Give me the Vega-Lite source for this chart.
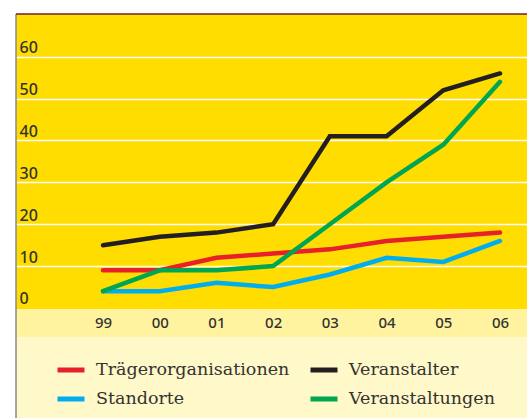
{
  "$schema": "https://vega.github.io/schema/vega-lite/v6.json",
  "width": 511,
  "height": 404,
  "autosize": {"type": "none"},
  "padding": {"left": 16, "top": 14, "right": 0, "bottom": 0},
  "background": "white",
  "config": {
    "view": {"fill": "#FFDD00", "stroke": null},
    "font": "Noto Sans"
  },
  "datasets": {
    "series": [
      {"year": 1999, "series": "Trägerorganisationen", "value": 9},
      {"year": 2000, "series": "Trägerorganisationen", "value": 9},
      {"year": 2001, "series": "Trägerorganisationen", "value": 12},
      {"year": 2002, "series": "Trägerorganisationen", "value": 13},
      {"year": 2003, "series": "Trägerorganisationen", "value": 14},
      {"year": 2004, "series": "Trägerorganisationen", "value": 16},
      {"year": 2005, "series": "Trägerorganisationen", "value": 17},
      {"year": 2006, "series": "Trägerorganisationen", "value": 18},
      {"year": 1999, "series": "Veranstalter", "value": 15},
      {"year": 2000, "series": "Veranstalter", "value": 17},
      {"year": 2001, "series": "Veranstalter", "value": 18},
      {"year": 2002, "series": "Veranstalter", "value": 20},
      {"year": 2003, "series": "Veranstalter", "value": 41},
      {"year": 2004, "series": "Veranstalter", "value": 41},
      {"year": 2005, "series": "Veranstalter", "value": 52},
      {"year": 2006, "series": "Veranstalter", "value": 56},
      {"year": 1999, "series": "Standorte", "value": 4},
      {"year": 2000, "series": "Standorte", "value": 4},
      {"year": 2001, "series": "Standorte", "value": 6},
      {"year": 2002, "series": "Standorte", "value": 5},
      {"year": 2003, "series": "Standorte", "value": 8},
      {"year": 2004, "series": "Standorte", "value": 12},
      {"year": 2005, "series": "Standorte", "value": 11},
      {"year": 2006, "series": "Standorte", "value": 16},
      {"year": 1999, "series": "Veranstaltungen", "value": 4},
      {"year": 2000, "series": "Veranstaltungen", "value": 9},
      {"year": 2001, "series": "Veranstaltungen", "value": 9},
      {"year": 2002, "series": "Veranstaltungen", "value": 10},
      {"year": 2003, "series": "Veranstaltungen", "value": 20},
      {"year": 2004, "series": "Veranstaltungen", "value": 30},
      {"year": 2005, "series": "Veranstaltungen", "value": 39},
      {"year": 2006, "series": "Veranstaltungen", "value": 54}
    ],
    "one": [{}]
  },
  "layer": [
    {
      "data": {"name": "one"},
      "mark": {"type": "rect", "color": "#FFF3A0"},
      "encoding": {
        "x": {"datum": 1997.466, "type": "quantitative", "scale": {"domain": [1997.466, 2006.476], "nice": false, "zero": false}},
        "x2": {"datum": 2006.476},
        "y": {"datum": -0.24, "type": "quantitative", "scale": {"domain": [-26.27, 70.2], "nice": false, "zero": false}},
        "y2": {"datum": -6.92}
      }
    },
    {
      "data": {"name": "one"},
      "mark": {"type": "rect", "color": "#FFF8C8"},
      "encoding": {
        "x": {"datum": 1997.466, "type": "quantitative"},
        "x2": {"datum": 2006.476},
        "y": {"datum": -6.92, "type": "quantitative"},
        "y2": {"datum": -26.27}
      }
    },
    {
      "data": {"name": "series"},
      "mark": {"type": "line", "strokeWidth": 4.5, "strokeCap": "round"},
      "encoding": {
        "x": {
          "field": "year",
          "type": "quantitative",
          "axis": {
            "orient": "bottom",
            "offset": -96,
            "zindex": 1,
            "values": [1999, 2000, 2001, 2002, 2003, 2004, 2005, 2006],
            "labelExpr": "slice(toString(datum.value), 2)",
            "domain": false,
            "ticks": false,
            "grid": false,
            "labelPadding": 0,
            "labelBaseline": "middle",
            "labelFontSize": 15,
            "labelFontWeight": 500,
            "labelColor": "#333333",
            "title": null
          }
        },
        "y": {
          "field": "value",
          "type": "quantitative",
          "axis": {
            "orient": "left",
            "zindex": 0,
            "values": [0, 10, 20, 30, 40, 50, 60],
            "domain": false,
            "ticks": false,
            "grid": true,
            "gridColor": {"condition": {"test": "datum.value === 0", "value": "transparent"}, "value": "#FFFFFF"},
            "gridWidth": 1.5,
            "gridOpacity": 1,
            "labelAlign": "left",
            "labelPadding": -3,
            "labelBaseline": "alphabetic",
            "labelOffset": -4,
            "labelFontSize": 16,
            "labelFontWeight": 500,
            "labelColor": "#333333",
            "title": null
          }
        },
        "color": {
          "field": "series",
          "type": "nominal",
          "scale": {
            "domain": ["Trägerorganisationen", "Standorte", "Veranstalter", "Veranstaltungen"],
            "range": ["#E8202A", "#00AEEF", "#231F20", "#00A651"]
          },
          "legend": {
            "orient": "none",
            "legendX": 39,
            "legendY": 340,
            "columns": 2,
            "title": null,
            "symbolType": "stroke",
            "symbolSize": 729,
            "symbolStrokeWidth": 5,
            "labelFont": "DejaVu Serif",
            "labelFontSize": 17.5,
            "labelColor": "#333333",
            "labelOffset": 9,
            "rowPadding": 3,
            "columnPadding": 10,
            "labelLimit": 400
          }
        }
      }
    },
    {
      "data": {"name": "one"},
      "mark": {"type": "rule", "color": "#8A8A8A", "strokeWidth": 1.5},
      "encoding": {
        "x": {"datum": 1997.466, "type": "quantitative"},
        "y": {"datum": 70.2, "type": "quantitative"},
        "y2": {"datum": -26.27}
      }
    },
    {
      "data": {"name": "one"},
      "mark": {"type": "rule", "color": "#6E1F2B", "strokeWidth": 1.5},
      "encoding": {"y": {"datum": 70.2, "type": "quantitative"}}
    }
  ]
}
